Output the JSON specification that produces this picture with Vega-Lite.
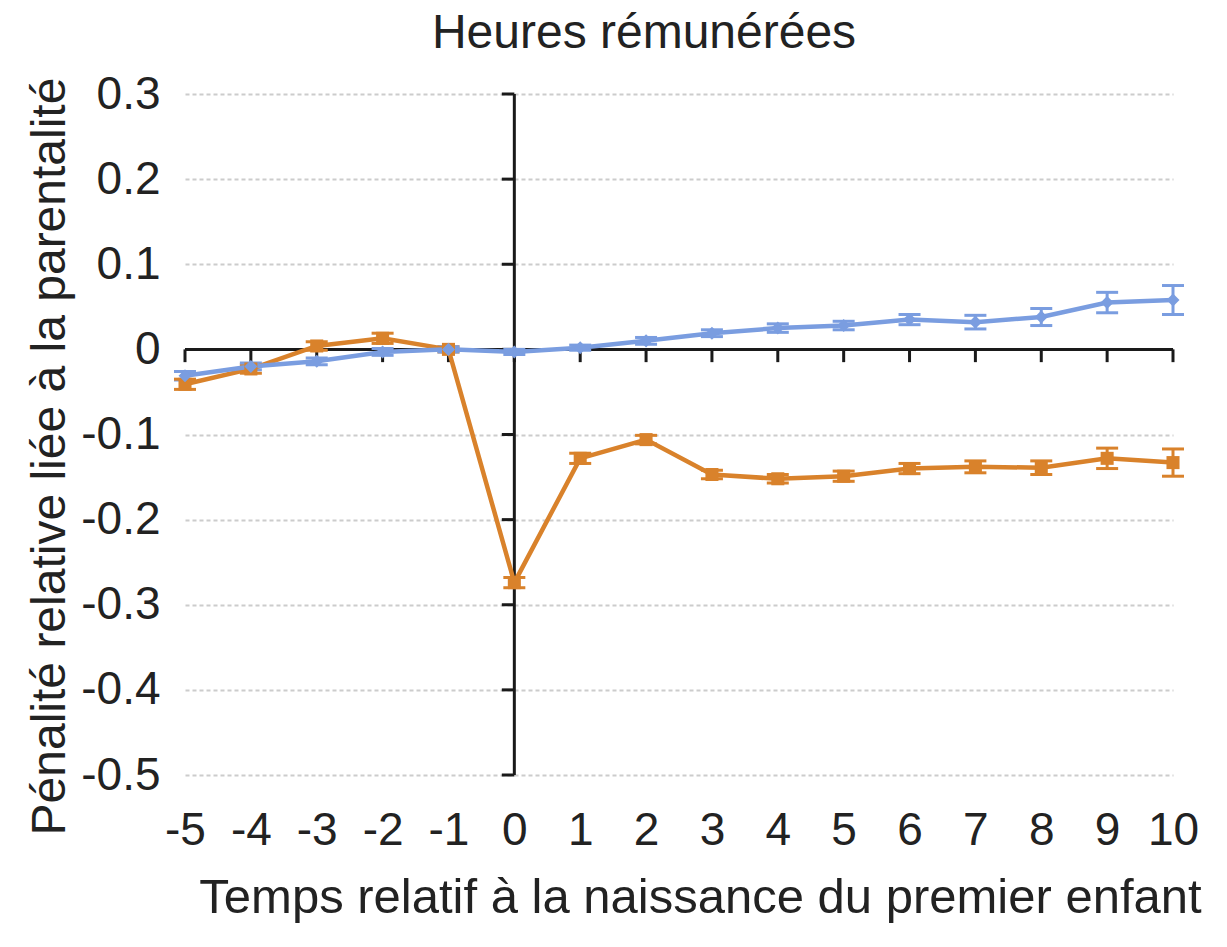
{
  "$schema": "https://vega.github.io/schema/vega-lite/v6.json",
  "autosize": "none",
  "padding": {"left": 185, "top": 94, "right": 54, "bottom": 172},
  "width": 988,
  "height": 681,
  "background": "white",
  "config": {
    "view": {"stroke": null},
    "font": "Liberation Sans"
  },
  "title": {
    "text": "Heures rémunérées",
    "fontSize": 48,
    "fontWeight": "normal",
    "color": "#222222",
    "font": "Liberation Sans",
    "anchor": "middle",
    "frame": "group",
    "baseline": "bottom",
    "offset": -35,
    "dx": -35
  },
  "datasets": {
    "series": [
      {"t": -5, "g": "Femmes", "v": -0.041, "e": 0.006},
      {"t": -4, "g": "Femmes", "v": -0.023, "e": 0.005},
      {"t": -3, "g": "Femmes", "v": 0.004, "e": 0.005},
      {"t": -2, "g": "Femmes", "v": 0.013, "e": 0.006},
      {"t": -1, "g": "Femmes", "v": 0.0, "e": 0.003},
      {"t": 0, "g": "Femmes", "v": -0.274, "e": 0.006},
      {"t": 1, "g": "Femmes", "v": -0.128, "e": 0.006},
      {"t": 2, "g": "Femmes", "v": -0.106, "e": 0.005},
      {"t": 3, "g": "Femmes", "v": -0.147, "e": 0.005},
      {"t": 4, "g": "Femmes", "v": -0.152, "e": 0.005},
      {"t": 5, "g": "Femmes", "v": -0.149, "e": 0.006},
      {"t": 6, "g": "Femmes", "v": -0.140, "e": 0.006},
      {"t": 7, "g": "Femmes", "v": -0.138, "e": 0.007},
      {"t": 8, "g": "Femmes", "v": -0.139, "e": 0.008},
      {"t": 9, "g": "Femmes", "v": -0.128, "e": 0.012},
      {"t": 10, "g": "Femmes", "v": -0.133, "e": 0.016},
      {"t": -5, "g": "Hommes", "v": -0.031, "e": 0.005},
      {"t": -4, "g": "Hommes", "v": -0.020, "e": 0.004},
      {"t": -3, "g": "Hommes", "v": -0.014, "e": 0.004},
      {"t": -2, "g": "Hommes", "v": -0.003, "e": 0.004},
      {"t": -1, "g": "Hommes", "v": 0.0, "e": 0.003},
      {"t": 0, "g": "Hommes", "v": -0.003, "e": 0.003},
      {"t": 1, "g": "Hommes", "v": 0.002, "e": 0.003},
      {"t": 2, "g": "Hommes", "v": 0.010, "e": 0.004},
      {"t": 3, "g": "Hommes", "v": 0.019, "e": 0.004},
      {"t": 4, "g": "Hommes", "v": 0.025, "e": 0.005},
      {"t": 5, "g": "Hommes", "v": 0.028, "e": 0.005},
      {"t": 6, "g": "Hommes", "v": 0.035, "e": 0.006},
      {"t": 7, "g": "Hommes", "v": 0.032, "e": 0.008},
      {"t": 8, "g": "Hommes", "v": 0.038, "e": 0.010},
      {"t": 9, "g": "Hommes", "v": 0.055, "e": 0.012},
      {"t": 10, "g": "Hommes", "v": 0.058, "e": 0.017}
    ],
    "xticks": [
      {"t": -5}, {"t": -4}, {"t": -3}, {"t": -2}, {"t": -1}, {"t": 0}, {"t": 1}, {"t": 2},
      {"t": 3}, {"t": 4}, {"t": 5}, {"t": 6}, {"t": 7}, {"t": 8}, {"t": 9}, {"t": 10}
    ],
    "yticks": [
      {"y": -0.5}, {"y": -0.4}, {"y": -0.3}, {"y": -0.2}, {"y": -0.1}, {"y": 0}, {"y": 0.1}, {"y": 0.2}, {"y": 0.3}
    ],
    "one": [{"k": 1}]
  },
  "layer": [
    {
      "data": {"name": "yticks"},
      "mark": {"type": "rule", "strokeOpacity": 0},
      "encoding": {
        "x": {
          "datum": 0,
          "type": "quantitative",
          "scale": {"domain": [-5, 10], "nice": false, "zero": false},
          "title": "Temps relatif à la naissance du premier enfant",
          "axis": {
            "values": [-5, -4, -3, -2, -1, 0, 1, 2, 3, 4, 5, 6, 7, 8, 9, 10],
            "labelExpr": "toString(datum.value)",
            "domain": false,
            "ticks": false,
            "grid": false,
            "labelFontSize": 46,
            "labelColor": "#222222",
            "labelPadding": 33,
            "labelFlush": false,
            "labelOverlap": false,
            "titleFontSize": 49,
            "titleFontWeight": "normal",
            "titleColor": "#222222",
            "titlePadding": 20,
            "titleX": 515
          }
        },
        "y": {
          "field": "y",
          "type": "quantitative",
          "scale": {"domain": [-0.5, 0.3], "nice": false, "zero": false},
          "title": "Pénalité relative liée à la parentalité",
          "axis": {
            "values": [-0.5, -0.4, -0.3, -0.2, -0.1, 0, 0.1, 0.2, 0.3],
            "labelExpr": "toString(round(datum.value*10)/10)",
            "domain": false,
            "ticks": false,
            "grid": true,
            "gridColor": "#cccccc",
            "gridDash": [4, 3],
            "gridWidth": 2,
            "labelFontSize": 46,
            "labelColor": "#222222",
            "labelPadding": 25,
            "labelFlush": false,
            "labelOverlap": false,
            "titleFontSize": 48,
            "titleFontWeight": "normal",
            "titleColor": "#222222",
            "titlePadding": 6,
            "titleY": 362
          }
        }
      }
    },
    {
      "data": {"name": "one"},
      "mark": {"type": "rule", "color": "#1a1a1a", "strokeWidth": 3},
      "encoding": {
        "y": {"datum": 0, "type": "quantitative", "title": "Pénalité relative liée à la parentalité"},
        "x": {"datum": -5, "type": "quantitative", "title": "Temps relatif à la naissance du premier enfant"},
        "x2": {"datum": 10}
      }
    },
    {
      "data": {"name": "one"},
      "mark": {"type": "rule", "color": "#1a1a1a", "strokeWidth": 3},
      "encoding": {
        "x": {"datum": 0, "type": "quantitative", "title": "Temps relatif à la naissance du premier enfant"},
        "y": {"datum": -0.5, "type": "quantitative", "title": "Pénalité relative liée à la parentalité"},
        "y2": {"datum": 0.3}
      }
    },
    {
      "data": {"name": "xticks"},
      "mark": {"type": "rule", "color": "#1a1a1a", "strokeWidth": 3},
      "encoding": {
        "x": {"field": "t", "type": "quantitative", "title": "Temps relatif à la naissance du premier enfant"},
        "y": {"datum": 0, "type": "quantitative", "title": "Pénalité relative liée à la parentalité"},
        "y2": {"datum": -0.015}
      }
    },
    {
      "data": {"name": "yticks"},
      "mark": {"type": "rule", "color": "#1a1a1a", "strokeWidth": 3},
      "encoding": {
        "y": {"field": "y", "type": "quantitative", "title": "Pénalité relative liée à la parentalité"},
        "x": {"datum": 0, "type": "quantitative", "title": "Temps relatif à la naissance du premier enfant"},
        "x2": {"datum": -0.19}
      }
    },
    {
      "data": {"name": "series"},
      "mark": {"type": "errorbar", "opacity": 1, "ticks": {"size": 22, "thickness": 3}, "thickness": 3},
      "encoding": {
        "x": {"field": "t", "type": "quantitative", "title": "Temps relatif à la naissance du premier enfant"},
        "y": {"field": "v", "type": "quantitative", "title": "Pénalité relative liée à la parentalité"},
        "yError": {"field": "e"},
        "color": {
          "field": "g",
          "type": "nominal",
          "scale": {"domain": ["Femmes", "Hommes"], "range": ["#D9822B", "#7A9DE0"]},
          "legend": null
        }
      }
    },
    {
      "data": {"name": "series"},
      "mark": {"type": "line", "strokeWidth": 4.5},
      "encoding": {
        "x": {"field": "t", "type": "quantitative", "title": "Temps relatif à la naissance du premier enfant"},
        "y": {"field": "v", "type": "quantitative", "title": "Pénalité relative liée à la parentalité"},
        "color": {
          "field": "g",
          "type": "nominal",
          "scale": {"domain": ["Femmes", "Hommes"], "range": ["#D9822B", "#7A9DE0"]},
          "legend": null
        }
      }
    },
    {
      "data": {"name": "series"},
      "mark": {"type": "point", "filled": true, "opacity": 1, "size": 170},
      "encoding": {
        "x": {"field": "t", "type": "quantitative", "title": "Temps relatif à la naissance du premier enfant"},
        "y": {"field": "v", "type": "quantitative", "title": "Pénalité relative liée à la parentalité"},
        "color": {
          "field": "g",
          "type": "nominal",
          "scale": {"domain": ["Femmes", "Hommes"], "range": ["#D9822B", "#7A9DE0"]},
          "legend": null
        },
        "shape": {
          "field": "g",
          "type": "nominal",
          "scale": {"domain": ["Femmes", "Hommes"], "range": ["square", "diamond"]},
          "legend": null
        }
      }
    }
  ]
}
